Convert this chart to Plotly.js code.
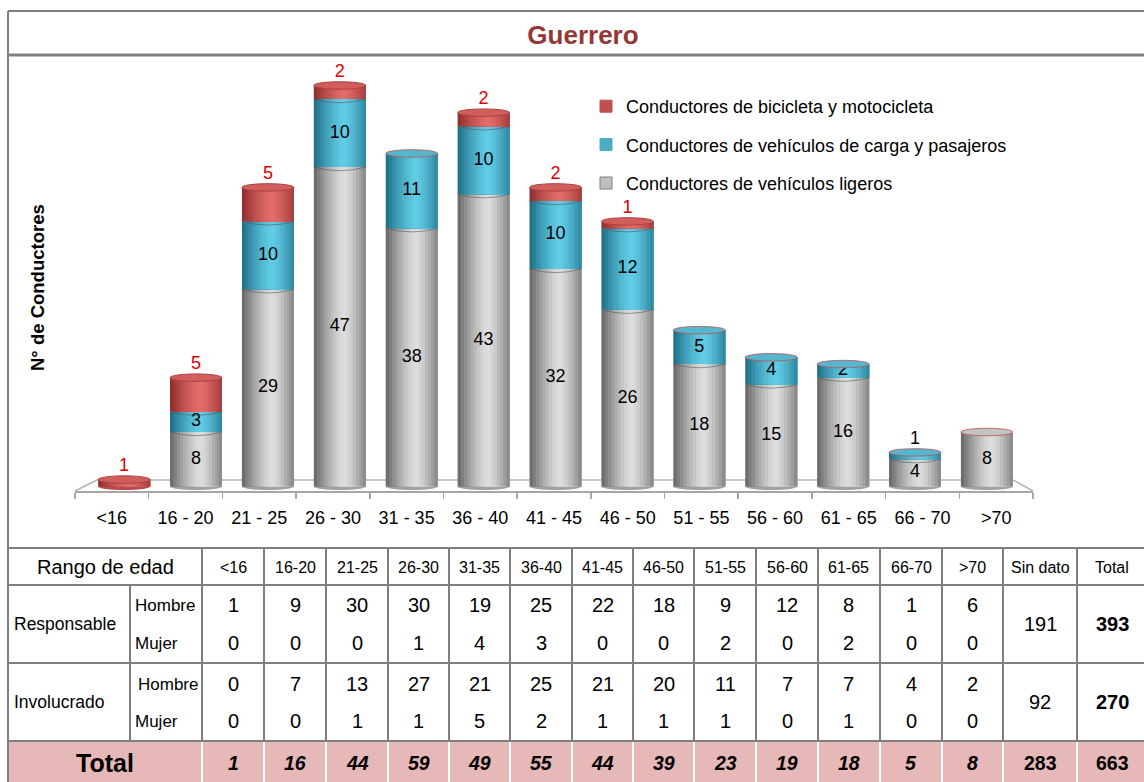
<!DOCTYPE html>
<html>
<head>
<meta charset="utf-8">
<script src="https://cdn.plot.ly/plotly-3.0.1.min.js"></script>
<style>html,body{margin:0;padding:0;background:#fff;}#chart{width:1144px;height:782px;}</style>
</head>
<body>
<div id="chart"></div>
<script>
// ---------- DATA ----------
const categories = ['<16','16 - 20','21 - 25','26 - 30','31 - 35','36 - 40','41 - 45','46 - 50','51 - 55','56 - 60','61 - 65','66 - 70','>70'];
const tableAges = ['<16','16-20','21-25','26-30','31-35','36-40','41-45','46-50','51-55','56-60','61-65','66-70','>70'];
const ligeros = [0,8,29,47,38,43,32,26,18,15,16,4,8];
const carga   = [0,3,10,10,11,10,10,12,5,4,2,1,0];
const bici    = [1,5,5,2,0,2,2,1,0,0,0,0,0];
const seriesNames = ['Conductores de vehículos ligeros','Conductores de vehículos de carga y pasajeros','Conductores de bicicleta y motocicleta'];
const respHombre = [1,9,30,30,19,25,22,18,9,12,8,1,6];
const respMujer  = [0,0,0,1,4,3,0,0,2,0,2,0,0];
const invHombre  = [0,7,13,27,21,25,21,20,11,7,7,4,2];
const invMujer   = [0,0,1,1,5,2,1,1,1,0,1,0,0];
const sinDato    = [191,92];
const rowTotals  = [393,270];
const colTotals  = [1,16,44,59,49,55,44,39,23,19,18,5,8];
const sinDatoTotal = 283;
const grandTotal = 663;

// ---------- STYLE HELPERS ----------
const FW = 1144, FH = 782;
const X = p => p / FW, Y = p => 1 - p / FH;
const SANS = "'Liberation Sans', Arial, sans-serif";
const GRID = '#7f7f7f';

const styles = [
  {dark:[100,100,100], light:[222,222,222], legend:'#c0c0c0', legendLine:'#7f7f7f'},
  {dark:[28,108,132],  light:[98,204,230],  legend:'#4bacc6', legendLine:'#4bacc6'},
  {dark:[140,44,44],   light:[228,108,104], legend:'#c0504d', legendLine:'#c0504d'}
];
const seriesVals = [ligeros, carga, bici];
const mix = (a,b,f) => 'rgb(' + a.map((v,k)=>Math.round(v+(b[k]-v)*f)).join(',') + ')';
const shade = t => t < 0.58 ? 1 - Math.pow((0.58 - t)/0.58, 1.4) : 1 - 0.75*Math.pow((t-0.58)/0.42, 1.4);

const idx = categories.map((c,i)=>i);
const W = 0.723, N = 16, E = 0.55;
const totals = idx.map(i => ligeros[i] + carga[i] + bici[i]);

const traces = [];
// legend-only entries (order: bici, carga, ligeros)
[2,1,0].forEach(s => {
  traces.push({type:'bar', x:[null], y:[null], name:seriesNames[s], legendgroup:'g'+s,
    marker:{color:styles[s].legend, line:{color:styles[s].legendLine, width:1}},
    xaxis:'x', yaxis:'y', hoverinfo:'skip'});
});
// cylinder strips
seriesVals.forEach((vals, s) => {
  const base = idx.map(i => seriesVals.slice(0, s).reduce((a, v) => a + v[i], 0));
  for (let j = 0; j < N; j++) {
    const t = (j + 0.5) / N;
    traces.push({type:'bar', x: idx, y: vals, base: base,
      width: W - j*W/N, offset: -W/2 + j*W/N,
      marker:{color: mix(styles[s].dark, styles[s].light, shade(t)), line:{width:0}},
      showlegend:false, hoverinfo:'skip', xaxis:'x', yaxis:'y'});
  }
});
// dummy trace to create category tick axis
traces.push({type:'scatter', mode:'markers', x: categories, y: categories.map(()=>0),
  marker:{opacity:0}, showlegend:false, hoverinfo:'skip', xaxis:'x2', yaxis:'y'});

// labels
const labelFont = {family:SANS, size:18, color:'#000'};
traces.push({type:'scatter', mode:'text', x: idx, y: ligeros.map(v => v/2),
  text: ligeros.map(v => v > 0 ? String(v) : ''), textfont: labelFont,
  showlegend:false, hoverinfo:'skip', cliponaxis:false, xaxis:'x', yaxis:'y'});
traces.push({type:'scatter', mode:'text', x: idx, y: carga.map((v,i) => ligeros[i] + v/2),
  text: carga.map(v => v >= 2 ? String(v) : ''), textfont: labelFont,
  showlegend:false, hoverinfo:'skip', cliponaxis:false, xaxis:'x', yaxis:'y'});
traces.push({type:'scatter', mode:'text', x: idx, y: totals.map(v => v + E),
  text: carga.map((v,i) => (v > 0 && v < 2 && bici[i] === 0) ? String(v) : ''),
  textposition:'top center', textfont: labelFont,
  showlegend:false, hoverinfo:'skip', cliponaxis:false, xaxis:'x', yaxis:'y'});
traces.push({type:'scatter', mode:'text', x: idx, y: totals.map(v => v + E),
  text: bici.map(v => v > 0 ? String(v) : ''), textposition:'top center',
  textfont:{family:SANS, size:18, color:'#dd0000'},
  showlegend:false, hoverinfo:'skip', cliponaxis:false, xaxis:'x', yaxis:'y'});

// ---------- SHAPES ----------
const shapes = [];
idx.forEach(i => {
  const top = totals[i];
  if (top <= 0) return;
  let topS = 0, botS = -1;
  seriesVals.forEach((v, s) => { if (v[i] > 0) { topS = s; if (botS < 0) botS = s; } });
  const rim = bici[i] === 0 ? 'rgba(192,80,77,0.8)' : mix(styles[topS].dark, styles[topS].light, 0.35);
  shapes.push({type:'circle', xref:'x', yref:'y', x0:i-W/2, x1:i+W/2, y0:top-E, y1:top+E,
    fillcolor: mix(styles[topS].dark, styles[topS].light, 0.78),
    line:{color: rim, width:1}, layer:'above'});
  shapes.push({type:'circle', xref:'x', yref:'y', x0:i-W/2, x1:i+W/2, y0:-E, y1:E,
    fillcolor: mix(styles[botS].dark, styles[botS].light, 0.5), line:{width:0}, layer:'below'});
  let cum = 0;
  seriesVals.forEach((v, s) => {
    cum += v[i];
    if (v[i] > 0 && cum < top) {
      shapes.push({type:'path', xref:'x', yref:'y',
        path:`M ${i-W/2},${cum} Q ${i},${cum-2*E} ${i+W/2},${cum}`,
        line:{color:'rgba(80,80,80,0.55)', width:1}, layer:'above'});
    }
  });
});
// floor back edges
const floorLine = {color:'#b4b4b4', width:1.5};
shapes.push({type:'line', xref:'paper', yref:'paper', x0:X(75), y0:Y(491), x1:X(97), y1:Y(480), line:floorLine, layer:'below'});
shapes.push({type:'line', xref:'paper', yref:'paper', x0:X(97), y0:Y(480), x1:X(1013), y1:Y(480), line:floorLine, layer:'below'});
shapes.push({type:'line', xref:'paper', yref:'paper', x0:X(1013), y0:Y(480), x1:X(1033), y1:Y(491), line:floorLine, layer:'below'});

// frame
const hl = (y, x0, x1, w, c) => shapes.push({type:'line', xref:'paper', yref:'paper', x0:X(x0), x1:X(x1), y0:Y(y), y1:Y(y), line:{color:c||GRID, width:w||2}});
const vl = (x, y0, y1, w, c) => shapes.push({type:'line', xref:'paper', yref:'paper', x0:X(x), x1:X(x), y0:Y(y0), y1:Y(y1), line:{color:c||GRID, width:w||2}});
shapes.push({type:'rect', xref:'paper', yref:'paper', x0:X(8), x1:X(1144), y0:Y(741), y1:Y(782), fillcolor:'#e6b9b8', line:{width:0}, layer:'below'});
hl(11, 8, 1144, 2);
hl(55, 8, 1144, 3);
vl(8, 11, 782, 2);
const bounds = [202,264,326,388,449,510,572,633,694,756,818,880,942,1003,1077];
[548,585,663,741].forEach(y => hl(y, 8, 1144, 2));
bounds.forEach(x => { vl(x, 548, 741, 2); vl(x, 742, 782, 2, '#ffffff'); });
vl(130, 585, 741, 2);

// ---------- ANNOTATIONS ----------
const ann = [];
const txt = (t, x, y, size, opts) => ann.push(Object.assign({text:t, x:X(x), y:Y(y), xref:'paper', yref:'paper',
  showarrow:false, xanchor:'center', yanchor:'middle', font:{family:SANS, size:size, color:'#000'}}, opts||{}));
ann.push({text:'<b>N° de Conductores</b>', x:X(37), y:Y(288), xref:'paper', yref:'paper', showarrow:false,
  textangle:-90, xanchor:'center', yanchor:'middle', font:{family:SANS, size:18.5, color:'#000'}});

txt('Rango de edad', 105, 567, 20);
const colCenter = k => (bounds[k] + bounds[k+1]) / 2;
tableAges.forEach((a, k) => {
  const cx = colCenter(k);
  txt(a, cx, 567, 16);
  txt(String(respHombre[k]), cx, 605, 20);
  txt(String(respMujer[k]), cx, 643, 20);
  txt(String(invHombre[k]), cx, 684, 20);
  txt(String(invMujer[k]), cx, 721, 20);
  txt('<b><i>' + colTotals[k] + '</i></b>', cx, 763, 19.5);
});
txt('Sin dato', 1040, 567, 16);
txt('Total', 1112, 567, 16);
txt(String(sinDato[0]), 1040, 624, 20);
txt(String(sinDato[1]), 1040, 702, 20);
txt('<b>' + rowTotals[0] + '</b>', 1112, 624, 20);
txt('<b>' + rowTotals[1] + '</b>', 1112, 702, 20);
txt('<b>' + sinDatoTotal + '</b>', 1040, 763, 19.5);
txt('<b>' + grandTotal + '</b>', 1112, 763, 19.5);
txt('<b>Total</b>', 105, 763, 25);
txt('Responsable', 12, 624, 17.5, {xanchor:'left'});
txt('Involucrado', 12, 702, 17.5, {xanchor:'left'});
txt('Hombre', 133, 605, 17, {xanchor:'left'});
txt('Mujer', 133, 643, 17, {xanchor:'left'});
txt('Hombre', 136, 684, 17, {xanchor:'left'});
txt('Mujer', 133, 721, 17, {xanchor:'left'});

// ---------- LAYOUT ----------
const barLeft = 124.1 - 0.5*71.9, barRight = 124.1 + 12.5*71.9;
const layout = {
  width: FW, height: FH, autosize:false,
  margin:{l:0, r:0, t:0, b:0, pad:0},
  paper_bgcolor:'#ffffff', plot_bgcolor:'rgba(0,0,0,0)',
  barmode:'overlay', hovermode:false,
  title:{text:'<b>Guerrero</b>', x:X(583), y:Y(35), xref:'paper', yref:'paper', xanchor:'center', yanchor:'middle',
    font:{family:SANS, size:26, color:'#953735'}},
  xaxis:{domain:[X(barLeft), X(barRight)], range:[-0.5, 12.5], visible:false, fixedrange:true, anchor:'y'},
  xaxis2:{domain:[X(75), X(1033)], type:'category', categoryorder:'array', categoryarray:categories,
    range:[-0.5, 12.5], anchor:'y', showline:true, linecolor:'#a6a6a6', linewidth:1.5,
    ticks:'outside', ticklen:6, tickcolor:'#a6a6a6', tickwidth:1.5, tickson:'boundaries',
    showgrid:false, zeroline:false, ticklabelstandoff:10,
    tickfont:{family:SANS, size:18, color:'#000'}, fixedrange:true},
  yaxis:{domain:[Y(491), Y(60)], range:[-0.68, 62.75], visible:false, fixedrange:true, anchor:'x'},
  legend:{x:X(586), y:Y(88), xanchor:'left', yanchor:'top', traceorder:'grouped', tracegroupgap:12,
    font:{family:SANS, size:18, color:'#000'}, bgcolor:'rgba(0,0,0,0)'},
  showlegend:true,
  shapes: shapes,
  annotations: ann
};
Plotly.newPlot('chart', traces, layout, {staticPlot:true, displayModeBar:false});
</script>
</body>
</html>
